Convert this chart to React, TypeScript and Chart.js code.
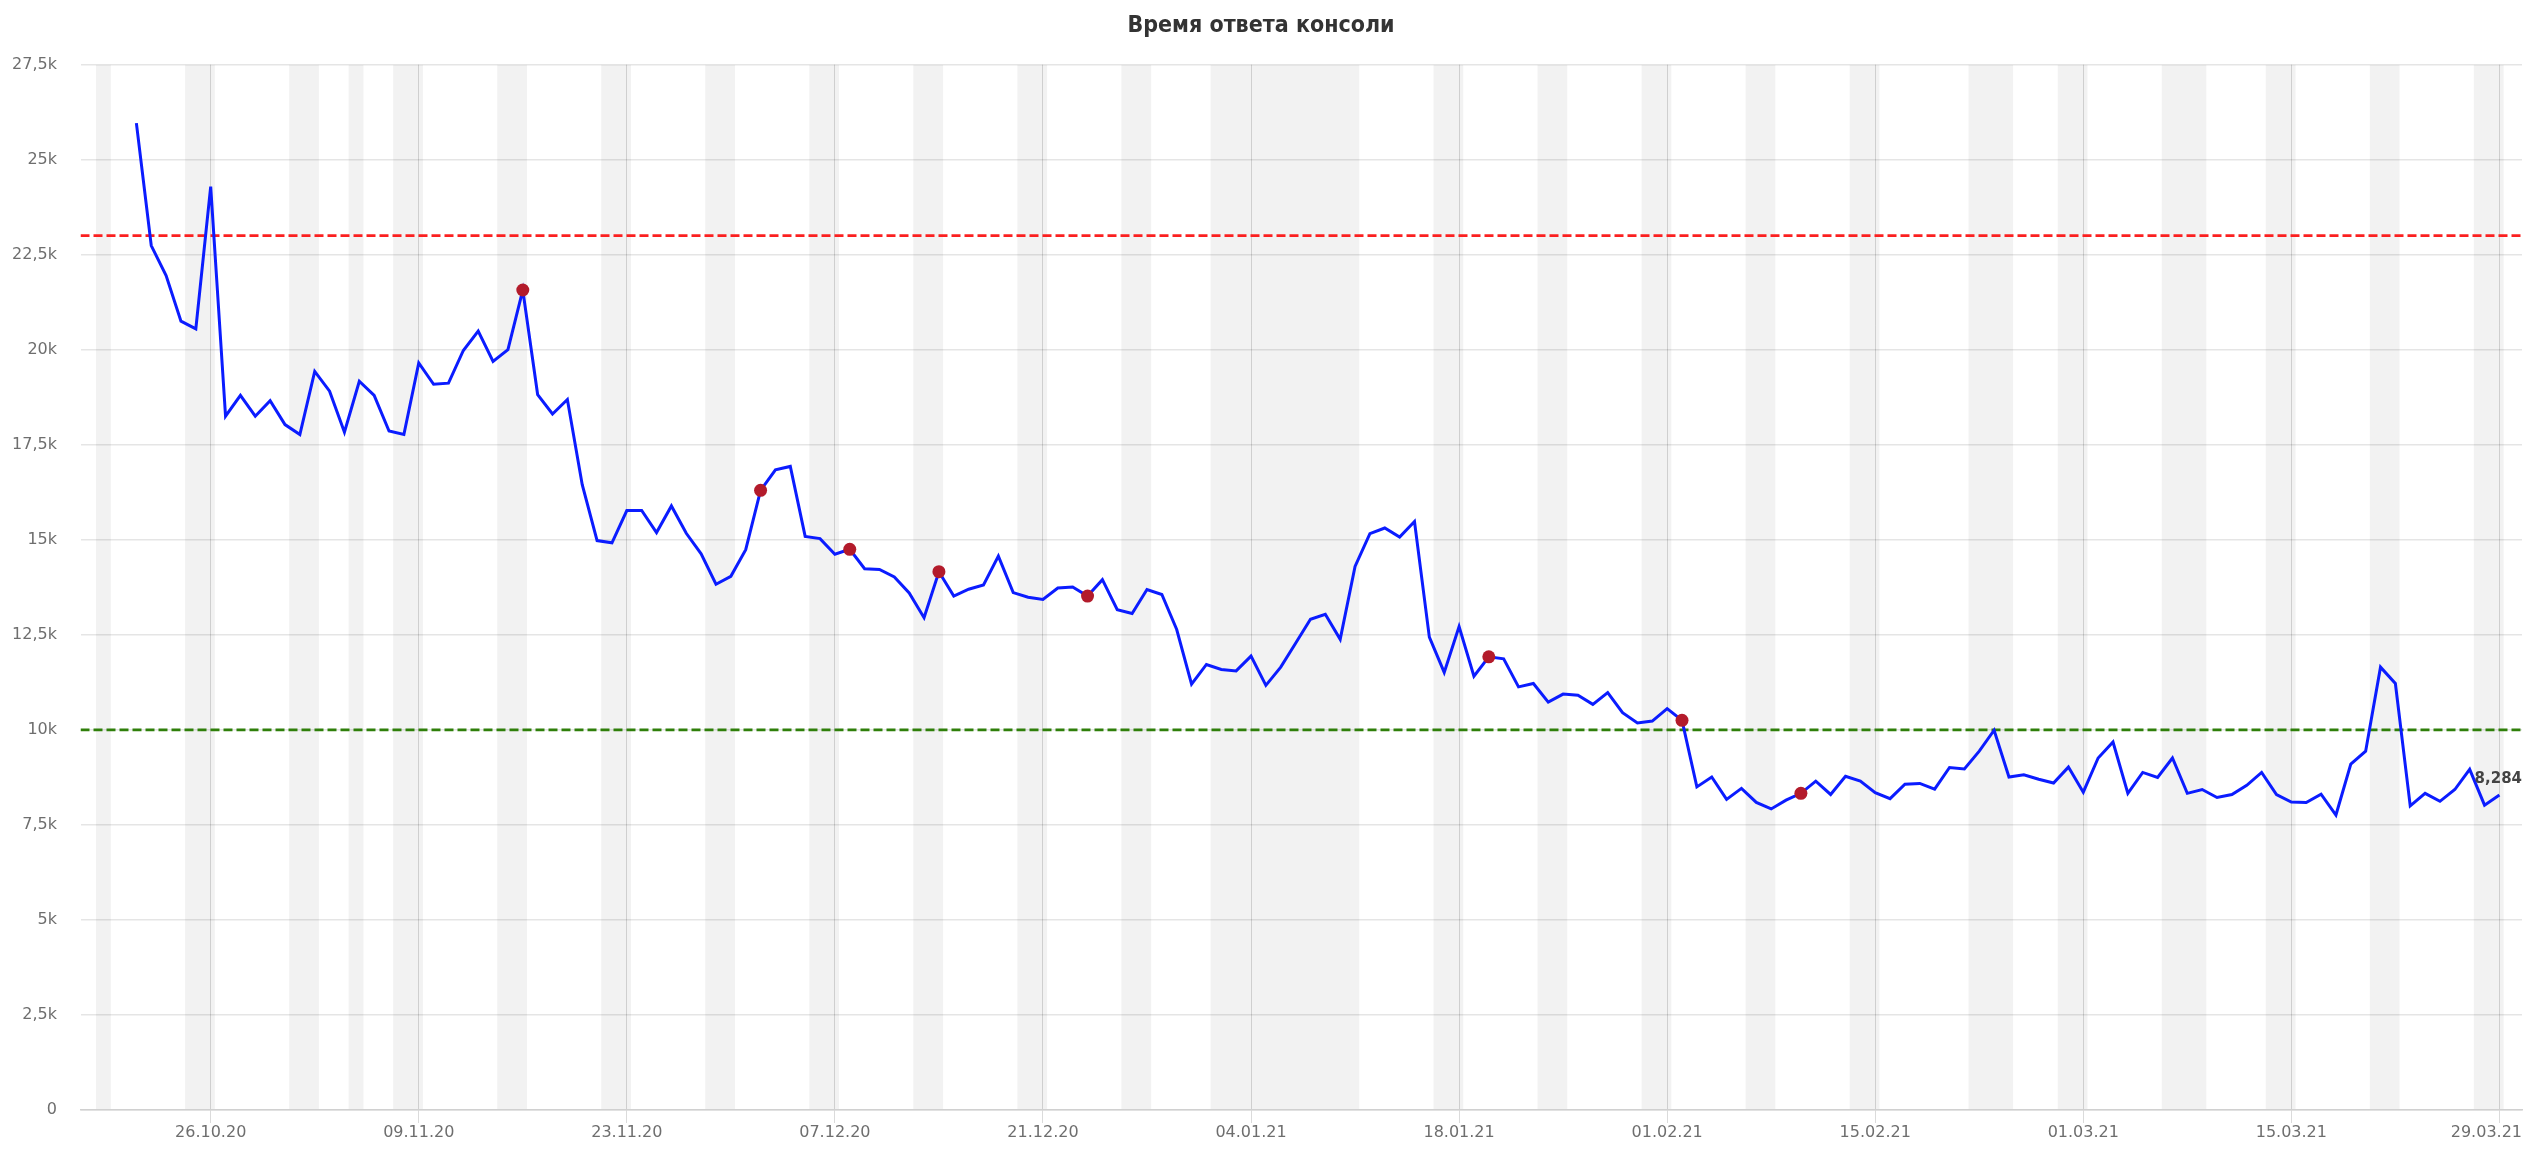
import React, { useEffect, useRef } from 'react';
import { Chart, registerables } from 'chart.js';

Chart.register(...registerables);

// ---------------- data ----------------
const TITLE = 'Время ответа консоли';

// first tick date = day 0 of the x axis
const ORIGIN_DATE = '26.10.20';
// first measurement date (one value per day from here on)
const FIRST_DATE = '21.10.20';

// daily console response time, ms
const RESPONSE_MS = [
  25960, 22740, 21950, 20750, 20550, 24290, 18250, 18800, 18250, 18660,
  18030, 17770, 19430, 18910, 17830, 19170, 18800, 17860, 17770, 19650,
  19090, 19120, 19980, 20490, 19690, 20000, 21570, 18820, 18310, 18690,
  16450, 14980, 14920, 15770, 15770, 15190, 15890, 15170, 14630, 13830,
  14040, 14740, 16300, 16840, 16930, 15090, 15030, 14620, 14750, 14240,
  14220, 14020, 13600, 12950, 14160, 13520, 13700, 13810, 14570, 13610,
  13490, 13430, 13730, 13760, 13520, 13950, 13160, 13060, 13690, 13560,
  12640, 11200, 11720, 11590, 11550, 11940, 11170, 11650, 12280, 12910,
  13040, 12380, 14300, 15160, 15310, 15070, 15480, 12440, 11510, 12720,
  11410, 11920, 11870, 11130, 11220, 10730, 10940, 10910, 10670, 10980,
  10450, 10180, 10230, 10560, 10250, 8500, 8760, 8170, 8460, 8090,
  7920, 8150, 8330, 8650, 8300, 8780, 8650, 8350, 8190, 8570,
  8590, 8440, 9010, 8970, 9440, 9990, 8760, 8820, 8700, 8600,
  9020, 8360, 9260, 9680, 8330, 8880, 8750, 9260, 8330, 8430,
  8220, 8300, 8540, 8880, 8300, 8100, 8090, 8310, 7760, 9100,
  9440, 11650, 11220, 8000, 8330, 8120, 8430, 8960, 8020, 8284,
];

// days highlighted with a red marker
const MARKER_DATES = [
  '16.11.20', '02.12.20', '08.12.20', '14.12.20',
  '24.12.20', '20.01.21', '02.02.21', '10.02.21',
];

// thresholds, ms
const LIMIT_HIGH = 23000;
const LIMIT_LOW = 10000;

// weekends and holidays (inclusive ranges)
const HOLIDAY_RANGES: [string, string][] = [
  ['18.10.20', '18.10.20'], ['24.10.20', '25.10.20'], ['31.10.20', '01.11.20'],
  ['04.11.20', '04.11.20'], ['07.11.20', '08.11.20'], ['14.11.20', '15.11.20'],
  ['21.11.20', '22.11.20'], ['28.11.20', '29.11.20'], ['05.12.20', '06.12.20'],
  ['12.12.20', '13.12.20'], ['19.12.20', '20.12.20'], ['26.12.20', '27.12.20'],
  ['01.01.21', '10.01.21'], ['16.01.21', '17.01.21'], ['23.01.21', '24.01.21'],
  ['30.01.21', '31.01.21'], ['06.02.21', '07.02.21'], ['13.02.21', '14.02.21'],
  ['21.02.21', '23.02.21'], ['27.02.21', '28.02.21'], ['06.03.21', '08.03.21'],
  ['13.03.21', '14.03.21'], ['20.03.21', '21.03.21'], ['27.03.21', '28.03.21'],
];

// x axis tick labels
const X_TICK_LABELS = [
  '26.10.20', '09.11.20', '23.11.20', '07.12.20', '21.12.20', '04.01.21',
  '18.01.21', '01.02.21', '15.02.21', '01.03.21', '15.03.21', '29.03.21',
];

// y axis ticks
const Y_TICK_VALUES = [0, 2500, 5000, 7500, 10000, 12500, 15000, 17500, 20000, 22500, 25000, 27500];
const Y_TICK_LABELS = ['0', '2,5k', '5k', '7,5k', '10k', '12,5k', '15k', '17,5k', '20k', '22,5k', '25k', '27,5k'];

// ---------------- helpers ----------------
const DAY_MS = 86400000;
function dateMs(s: string): number {
  const [dd, mm, yy] = s.split('.').map(Number);
  return Date.UTC(2000 + yy, mm - 1, dd);
}
function dayOf(s: string): number {
  return Math.round((dateMs(s) - dateMs(ORIGIN_DATE)) / DAY_MS);
}

const FIRST_DAY = dayOf(FIRST_DATE);
const MARKER_DAYS = MARKER_DATES.map(dayOf);

// ---------------- layout / style ----------------
const X_MIN = -8.76;
const X_MAX = 155.52;
const BAND_SHIFT = 0.28;
const FONT = '"DejaVu Sans", sans-serif';
const LABEL_COLOR = '#6e6e6e';

const bandsPlugin = {
  id: 'bands',
  beforeDraw(chart: any) {
    const { ctx, chartArea, scales } = chart;
    const x = scales.x;
    ctx.save();
    ctx.beginPath();
    ctx.rect(chartArea.left, chartArea.top, chartArea.width, chartArea.height);
    ctx.clip();
    ctx.fillStyle = '#f2f2f2';
    for (const [a, b] of HOLIDAY_RANGES) {
      const x0 = x.getPixelForValue(dayOf(a) + BAND_SHIFT);
      const x1 = x.getPixelForValue(dayOf(b) + 1 + BAND_SHIFT);
      ctx.fillRect(x0, chartArea.top, x1 - x0, chartArea.height);
    }
    ctx.restore();
  },
};

const xLabelsPlugin = {
  id: 'xLabels',
  afterDraw(chart: any) {
    const { ctx, chartArea, scales } = chart;
    const x = scales.x;
    ctx.save();
    ctx.font = `16px ${FONT}`;
    ctx.fillStyle = LABEL_COLOR;
    ctx.textAlign = 'center';
    ctx.textBaseline = 'middle';
    for (const lbl of X_TICK_LABELS) {
      let px = x.getPixelForValue(dayOf(lbl));
      const w = ctx.measureText(lbl).width;
      if (px + w / 2 > chart.width - 1) px = chart.width - 1 - w / 2;
      ctx.fillText(lbl, px, chartArea.bottom + 23);
    }
    ctx.restore();
  },
};

const lastLabelPlugin = {
  id: 'lastLabel',
  afterDatasetsDraw(chart: any) {
    const { ctx } = chart;
    const meta = chart.getDatasetMeta(0);
    const last = meta.data[meta.data.length - 1];
    if (!last) return;
    const v = RESPONSE_MS[RESPONSE_MS.length - 1];
    const text = (v / 1000).toFixed(3).replace('.', ',');
    ctx.save();
    ctx.font = `bold 15px ${FONT}`;
    ctx.fillStyle = '#444';
    ctx.textAlign = 'right';
    ctx.textBaseline = 'middle';
    const w = ctx.measureText(text).width;
    const right = Math.min(last.x + w / 2, chart.width - 1);
    ctx.fillText(text, right, last.y - 16);
    ctx.restore();
  },
};

export default function App() {
  const ref = useRef<HTMLCanvasElement | null>(null);

  useEffect(() => {
    if (!ref.current) return;
    const mainData = RESPONSE_MS.map((v, i) => ({ x: FIRST_DAY + i, y: v }));
    const chart = new Chart(ref.current, {
      type: 'line',
      data: {
        datasets: [
          {
            data: mainData,
            borderColor: '#0b1cff',
            borderWidth: 3,
            tension: 0,
            pointRadius: (c: any) => (MARKER_DAYS.includes(c.raw?.x) ? 6.5 : 0),
            pointBackgroundColor: '#b31b2b',
            pointBorderWidth: 0,
            pointHoverRadius: 0,
            order: 0,
          },
          {
            data: [{ x: X_MIN, y: LIMIT_HIGH }, { x: X_MAX, y: LIMIT_HIGH }],
            borderColor: '#fb2020',
            borderWidth: 2.7,
            borderDash: [9, 4],
            pointRadius: 0,
            order: 1,
          },
          {
            data: [{ x: X_MIN, y: LIMIT_LOW }, { x: X_MAX, y: LIMIT_LOW }],
            borderColor: '#2f7f0a',
            borderWidth: 2.7,
            borderDash: [9, 4],
            pointRadius: 0,
            order: 1,
          },
        ],
      },
      options: {
        animation: false,
        responsive: true,
        maintainAspectRatio: false,
        layout: { padding: { left: 0, right: 1, top: 0, bottom: 30 } },
        plugins: {
          legend: { display: false },
          tooltip: { enabled: false },
          title: {
            display: true,
            text: TITLE,
            color: '#333',
            font: { family: '"DejaVu Sans Condensed", "Liberation Sans Narrow", "Roboto Condensed", Roboto, sans-serif', size: 23, weight: 'bold' },
            padding: { top: 12, bottom: 25 },
          },
        },
        scales: {
          x: {
            type: 'linear',
            min: X_MIN,
            max: X_MAX,
            afterBuildTicks: (s: any) => {
              s.ticks = X_TICK_LABELS.map((l) => ({ value: dayOf(l) }));
            },
            ticks: { display: false },
            grid: { color: 'rgba(0,0,0,0.14)', lineWidth: 1, tickLength: 13, drawTicks: true },
            border: { display: true, color: '#d0d0d0', width: 1.5 },
          },
          y: {
            min: 0,
            max: 27500,
            afterBuildTicks: (s: any) => {
              s.ticks = Y_TICK_VALUES.map((v) => ({ value: v }));
            },
            ticks: {
              callback: (v: any) => {
                const i = Y_TICK_VALUES.indexOf(Number(v));
                return i >= 0 ? Y_TICK_LABELS[i] : '';
              },
              color: LABEL_COLOR,
              font: { family: FONT, size: 16 },
              padding: 23.5,
            },
            grid: { color: 'rgba(0,0,0,0.1)', lineWidth: 1.5, drawTicks: false },
            border: { display: false },
            afterFit: (s: any) => {
              s.width = 80.5;
            },
          },
        },
      },
      plugins: [bandsPlugin, xLabelsPlugin, lastLabelPlugin],
    } as any);
    return () => chart.destroy();
  }, []);

  return (
    <div style={{ position: 'absolute', left: 0, top: 0, width: '2523px', height: '1153px', background: '#fff' }}>
      <canvas ref={ref} />
    </div>
  );
}
